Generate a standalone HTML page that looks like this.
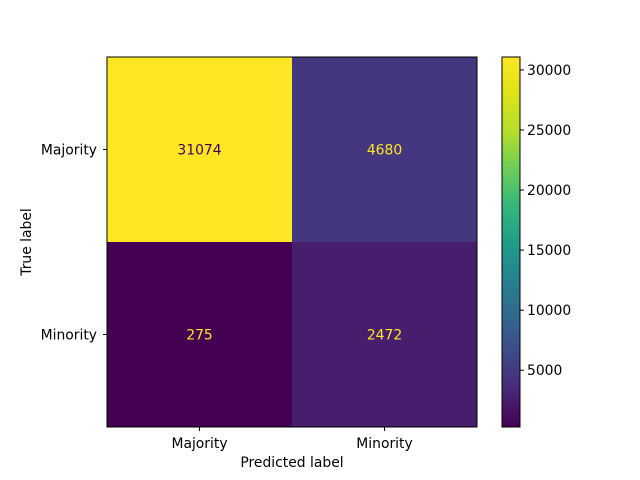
<!DOCTYPE html>
<html><head><meta charset="utf-8"><style>
html,body{margin:0;padding:0;background:#fff;}
svg{display:block;font-family:"DejaVu Sans","Liberation Sans",sans-serif;}
</style></head><body>
<svg id="chart" width="640" height="480">
<defs>
<linearGradient id="viridis" x1="0" y1="1" x2="0" y2="0">
<stop offset="0" stop-color="#440154"/><stop offset="0.1" stop-color="#482878"/>
<stop offset="0.2" stop-color="#3e4989"/><stop offset="0.3" stop-color="#31688e"/>
<stop offset="0.4" stop-color="#26828e"/><stop offset="0.5" stop-color="#1f9e89"/>
<stop offset="0.6" stop-color="#35b779"/><stop offset="0.7" stop-color="#6ece58"/>
<stop offset="0.8" stop-color="#b5de2b"/><stop offset="0.9" stop-color="#dde318"/>
<stop offset="1" stop-color="#fde725"/>
</linearGradient>
</defs>
</svg>
<script>
const labels = ["Majority", "Minority"];
const matrix = [[31074, 4680], [275, 2472]];
const cbTicks = [5000, 10000, 15000, 20000, 25000, 30000];

const svg = document.getElementById('chart');
const NS = 'http://www.w3.org/2000/svg';
const FS = 13.9;
const X0 = 107, Y0 = 57, SIZE = 370, n = labels.length, cell = SIZE / n;
const flat = matrix.flat();
const vmin = Math.min(...flat), vmax = Math.max(...flat);
const stops = [[68,1,84],[72,40,120],[62,73,137],[49,104,142],[38,130,142],[31,158,137],[53,183,121],[110,206,88],[181,222,43],[221,227,24],[253,231,37]];
function viridis(t){t=Math.max(0,Math.min(1,t));const p=t*10,i=Math.min(9,Math.floor(p)),f=p-i;
 const c=stops[i].map((v,k)=>Math.round(v+(stops[i+1][k]-v)*f));return `rgb(${c.join(',')})`;}
function mk(tag, attrs, text){const e=document.createElementNS(NS,tag);for(const k in attrs)e.setAttribute(k,attrs[k]);if(text!==undefined)e.textContent=text;svg.appendChild(e);return e;}
const CB_X = 502, CB_W = 18, CB_Y0 = 57, CB_H = 370;
function cbY(v){return CB_Y0 + CB_H - (v - vmin) / (vmax - vmin) * CB_H;}

for (let r = 0; r < n; r++) for (let c = 0; c < n; c++) {
  const v = matrix[r][c], t = (v - vmin) / (vmax - vmin);
  const rect = mk('rect', {x: X0 + c*cell, y: Y0 + r*cell, width: cell+0.5, height: cell+0.5, fill: viridis(t)});
  
  
  const tx = mk('text', {x: X0 + c*cell + cell/2, y: Y0 + r*cell + cell/2 + 5, 'text-anchor': 'middle', 'font-size': FS, fill: t < 0.5 ? '#fde725' : '#440154'}, String(v));
  
  
}
const frame = mk('rect', {x: X0, y: Y0, width: SIZE, height: SIZE, fill: 'none', stroke: '#000', 'stroke-width': 1});



labels.forEach((l, i) => {
  const cx = X0 + i*cell + cell/2, cy = Y0 + i*cell + cell/2;
  mk('line', {x1: cx, x2: cx, y1: Y0+SIZE, y2: Y0+SIZE+4, stroke: '#000'});
  const xt = mk('text', {x: cx, y: Y0+SIZE+21, 'text-anchor': 'middle', 'font-size': FS}, l);
  
  
  mk('line', {x1: X0-4, x2: X0, y1: cy, y2: cy, stroke: '#000'});
  const yt = mk('text', {x: X0-10, y: cy+5, 'text-anchor': 'end', 'font-size': FS}, l);
  
  
});
const xl = mk('text', {x: X0+SIZE/2, y: 467, 'text-anchor': 'middle', 'font-size': FS}, 'Predicted label');


const yl = mk('text', {x: 31, y: Y0+SIZE/2, 'text-anchor': 'middle', 'font-size': FS, transform: `rotate(-90 31 ${Y0+SIZE/2})`}, 'True label');



const cb = mk('rect', {x: CB_X, y: CB_Y0, width: CB_W, height: CB_H, fill: 'url(#viridis)', stroke: '#000', 'stroke-width': 1});


cbTicks.forEach(v => {
  const y = cbY(v);
  mk('line', {x1: CB_X+CB_W, x2: CB_X+CB_W+4, y1: y, y2: y, stroke: '#000'});
  const t = mk('text', {x: CB_X+CB_W+7, y: y+5, 'font-size': FS}, String(v));
  
  
});
</script>
</body></html>
